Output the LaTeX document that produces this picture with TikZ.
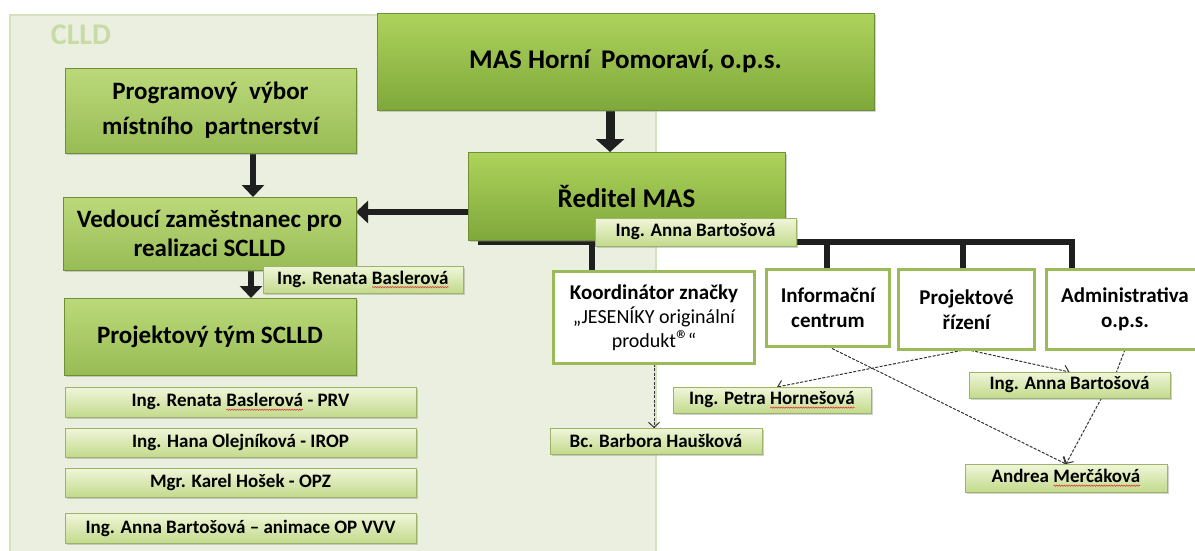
\documentclass[tikz,border=0pt]{standalone}
\usepackage{fontspec}
\setmainfont{Carlito}
\usetikzlibrary{arrows.meta,shadows,calc,decorations.pathmorphing}
\definecolor{mtop}{HTML}{AED35C}
\definecolor{mbot}{HTML}{7FA83B}
\definecolor{gtop}{HTML}{BCD97A}
\definecolor{gbot}{HTML}{98BC55}
\definecolor{boxedge}{HTML}{6E8F35}
\definecolor{ttop}{HTML}{F0F6DA}
\definecolor{tbot}{HTML}{C3DA8C}
\definecolor{tagedge}{HTML}{9DB36A}
\definecolor{wedge}{HTML}{9BBB59}
\definecolor{clldfill}{HTML}{EBEFDF}
\definecolor{clldedge}{HTML}{D5E3BC}
\definecolor{clldtext}{HTML}{C8DAA6}
\definecolor{spell}{HTML}{E03030}
\newcommand\redwave[1]{\tikz[baseline=(w.base)]{\node[inner sep=0pt,outer sep=0pt,draw=none,fill=none,minimum width=0pt,minimum height=0pt,anchor=base] (w) {#1};
  \draw[draw=spell, line width=0.5pt, decorate, decoration={snake,amplitude=0.7pt,segment length=2.5pt}] ($(w.base west)+(0pt,-3pt)$) -- ($(w.base east)+(0pt,-3pt)$);}}
\pgfdeclarelayer{back}
\pgfdeclarelayer{mid}
\pgfsetlayers{back,mid,main}
\tikzset{
  gbox/.style={draw=boxedge, line width=0.8pt, top color=gtop, bottom color=gbot,
    drop shadow={shadow xshift=2pt, shadow yshift=-2pt, opacity=0.35},
    inner sep=0pt, outer sep=0pt, align=center, text=black},
  masbox/.style={gbox, top color=mtop, bottom color=mbot},
  tagbox/.style={draw=tagedge, line width=0.6pt, top color=ttop, bottom color=tbot,
    drop shadow={shadow xshift=1.5pt, shadow yshift=-1.5pt, opacity=0.35},
    inner sep=0pt, outer sep=0pt, text=black, font=\fontsize{19}{21}\selectfont\bfseries},
  wbox/.style={draw=wedge, line width=3pt, fill=white, inner sep=0pt, outer sep=0pt,
    align=center, text=black},
  thickarrow/.style={line width=6.5pt, draw=black!88, -{Triangle[length=12pt,width=22pt]}},
  bigarrow/.style={line width=9pt, draw=black!88, -{Triangle[length=13pt,width=28pt]}},
  busline/.style={line width=5.5pt, draw=black!88},
  dashline/.style={draw=black!80, line width=1pt, dash pattern=on 3pt off 1.5pt},
  dasharr/.style={dashline, -{Straight Barb[length=5pt,width=11pt]}}
}
\begin{document}
\begin{tikzpicture}[x=1pt,y=-1pt]
\useasboundingbox (0,0) rectangle (1195,550);
\begin{pgfonlayer}{back}
\fill[white] (0,0) rectangle (1195,550);
\node[draw=clldedge, line width=2pt, fill=clldfill, minimum width=646pt, minimum height=560pt,
  inner sep=0pt, outer sep=0pt] (clld) at (333,295) {};
\node[text=clldtext, font=\fontsize{30}{32}\selectfont\bfseries] (clldlabel) at (81,35) {CLLD};
\end{pgfonlayer}

% main green boxes
\node[masbox, minimum width=497pt, minimum height=97pt, font=\fontsize{27}{30}\selectfont\bfseries]
  (mas) at (625.5,61.5) {MAS Horní\hspace{0.4em}Pomoraví, o.p.s.};
\node[masbox, minimum width=317pt, minimum height=88pt, font=\fontsize{27}{30}\selectfont\bfseries]
  (red) at (626.5,196) {Ředitel MAS};
\node[gbox, minimum width=291pt, minimum height=85pt, font=\fontsize{25}{35}\selectfont\bfseries]
  (prog) at (210.5,110.5) {Programový\hspace{0.45em}výbor\\místního\hspace{0.45em}partnerství};
\node[gbox, minimum width=293pt, minimum height=73pt, font=\fontsize{25}{29}\selectfont\bfseries]
  (ved) at (209.5,233.5) {Vedoucí zaměstnanec pro\\realizaci SCLLD};
\node[gbox, minimum width=292pt, minimum height=77pt, font=\fontsize{25}{29}\selectfont\bfseries]
  (proj) at (210,336.5) {Projektový tým SCLLD};

% tags, left
\node[tagbox, minimum width=200pt, minimum height=27pt] (ren) at (363,279.5) {Ing. Renata \redwave{Baslerová}};
\node[tagbox, minimum width=351pt, minimum height=30pt] (t1) at (240.5,402) {Ing. Renata \redwave{Baslerová} - PRV};
\node[tagbox, minimum width=351pt, minimum height=29pt] (t2) at (240.5,442.5) {Ing. Hana Olejníková - IROP};
\node[tagbox, minimum width=351pt, minimum height=29pt] (t3) at (240.5,482.5) {Mgr. Karel Hošek - OPZ};
\node[tagbox, minimum width=351pt, minimum height=30pt] (t4) at (240.5,528) {Ing. Anna Bartošová – animace OP VVV};

% white boxes
\node[wbox, minimum width=201pt, minimum height=92pt, font=\fontsize{20}{24}\selectfont]
  (koord) at (654,317.5) {{\bfseries\fontsize{21}{24}\selectfont Koordinátor značky}\\„JESENÍKY originální\\produkt\raisebox{-1pt}{\fontsize{26}{26}\selectfont ®}\hspace{-1.5pt}“};
\node[wbox, minimum width=123pt, minimum height=77pt, font=\fontsize{21}{25}\selectfont\bfseries]
  (info) at (828,308) {Informační\\centrum};
\node[wbox, minimum width=136pt, minimum height=80pt, font=\fontsize{21}{25}\selectfont\bfseries]
  (projr) at (966.5,309.5) {Projektové\\řízení};
\node[wbox, minimum width=157pt, minimum height=80pt, font=\fontsize{21}{25}\selectfont\bfseries]
  (admin) at (1125,309.5) {Administrativa\\o.p.s.};

% tags, right
\node[tagbox, minimum width=201pt, minimum height=28pt] (annaR) at (695.5,232) {Ing. Anna Bartošová};
\node[tagbox, minimum width=212pt, minimum height=26pt] (barbora) at (656,441) {Bc. Barbora Haušková};
\node[tagbox, minimum width=198pt, minimum height=26pt] (petra) at (772,400) {Ing. Petra \redwave{Hornešová}};
\node[tagbox, minimum width=201pt, minimum height=26pt] (anna2) at (1069.5,385) {Ing. Anna Bartošová};
\node[tagbox, minimum width=202pt, minimum height=28pt] (andrea) at (1066,478) {Andrea \redwave{Merčáková}};

% connectors
\begin{pgfonlayer}{mid}
\coordinate (ax) at (253,0);
\coordinate (bx) at (251,0);
\coordinate (cx) at (610,0);
\coordinate (cy) at (0,212);
\draw[bigarrow] (mas.south -| cx) -- (red.north -| cx);
\draw[thickarrow] (prog.south -| ax) -- (ved.north -| ax);
\draw[thickarrow] (ved.south -| bx) -- (proj.north -| bx);
\draw[thickarrow] (red.west |- cy) -- (ved.east |- cy);
\coordinate (busL) at (478,242);
\coordinate (busR) at (1072,242);
\coordinate (d1) at (592,242);
\coordinate (d2) at (827,242);
\coordinate (d3) at (963,242);
\draw[busline] (busL) -- (busR) -- (busR |- admin.north);
\draw[busline] (d1) -- (d1 |- koord.north);
\draw[busline] (d2) -- (d2 |- info.north);
\draw[busline] (d3) -- (d3 |- projr.north);
\draw[dasharr] (koord.south) -- (koord.south |- barbora.north);
\draw[dasharr] (projr.south) -- ($(petra.north)+(5,0)$);
\draw[dasharr] (projr.south) -- (anna2.north);
\draw[dasharr] (info.south) -- (andrea.north);
\draw[dashline] (admin.south) -- ($(anna2.north)+(47,0)$);
\draw[dasharr] ($(anna2.south)+(32,0)$) -- (andrea.north);
\end{pgfonlayer}
\end{tikzpicture}
\end{document}
